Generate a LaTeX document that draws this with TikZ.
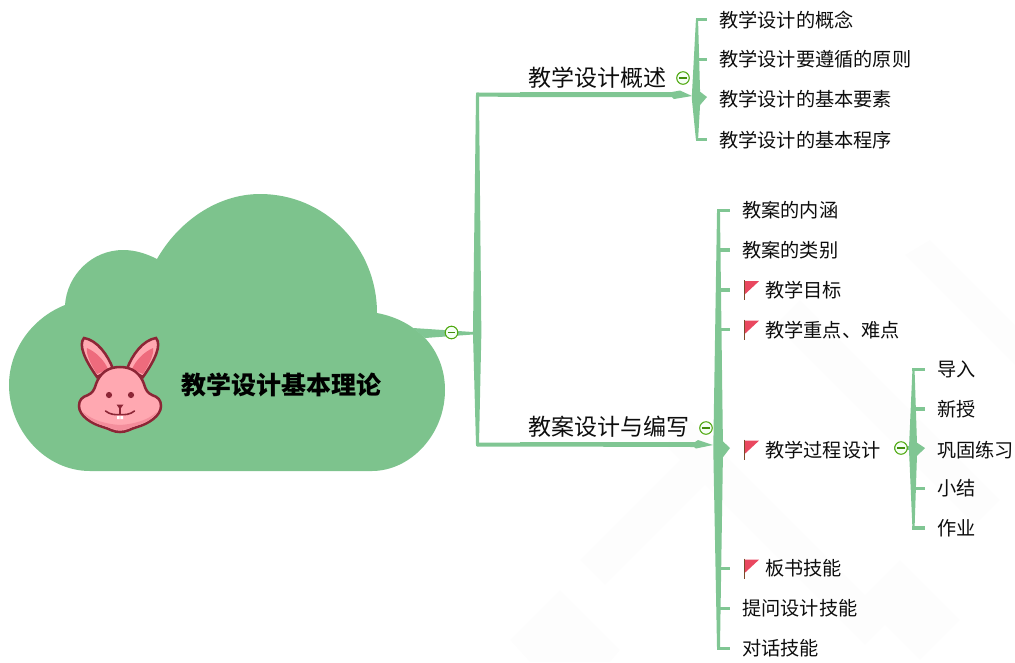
\documentclass[tikz,border=0pt]{standalone}
\usepackage{fontspec}
\setmainfont{Noto Sans CJK SC}
\usetikzlibrary{positioning}
\definecolor{cloudgreen}{HTML}{7DC38D}
\definecolor{limbgreen}{HTML}{80C693}
\definecolor{foldgreen}{HTML}{4FA80F}
\definecolor{flagred}{HTML}{E9475F}
\definecolor{flagpole}{HTML}{7A4A2A}
\definecolor{bunnyline}{HTML}{8C2636}
\definecolor{bunnyskin}{HTML}{FFA8B1}
\definecolor{bunnyear}{HTML}{EE6B7D}
\definecolor{bunnyshade}{HTML}{F48E9C}
\definecolor{markgrey}{HTML}{FDFDFD}
\tikzset{
  limb/.style={fill=limbgreen},
  twig/.style={draw=limbgreen,line width=2.7pt},
  rootlabel/.style={anchor=center,inner sep=0pt,font=\fontsize{18.75}{20}\selectfont\bfseries,text=black},
  topic/.style={anchor=west,inner sep=0pt,yshift=-.5pt,font=\fontsize{17.25}{20}\selectfont,text=black!95},
  leaf/.style={anchor=west,inner sep=0pt,yshift=-.5pt,font=\fontsize{14.4}{18}\selectfont,text=black!95},
  fold/.style={circle,draw=foldgreen,fill=green!4!white,line width=.8pt,minimum size=9.4pt,inner sep=0pt,
    path picture={\draw[foldgreen!85!black,line width=.8pt]
      ([xshift=2pt]path picture bounding box.west)--([xshift=-2pt]path picture bounding box.east);}},
  flagmark/.pic={
    \fill[flagred](15,-9)--(29,-9)--(15,4)--cycle;
    \draw[flagpole,line width=.7pt](14,-10)--(14,10);
  }
}
\begin{document}
\begin{tikzpicture}[x=.75pt,y=-.75pt]
\useasboundingbox(0,0)rectangle(1015,662);
%faint marks behind
\fill[markgrey](930,240)--(1015,325)--(1015,365)--(905,255)--cycle;
\fill[markgrey](800,300)--(1000,500)--(975,525)--(775,325)--cycle;
\fill[markgrey](690,420)--(890,620)--(865,645)--(665,445)--cycle;
\fill[markgrey](580,560)--(680,460)--(705,485)--(605,585)--cycle;
\fill[markgrey](510,640)--(560,590)--(620,650)--(610,662)--(530,662)--cycle;
\fill[markgrey](900,560)--(960,620)--(920,660)--(860,600)--cycle;
%hubs and tips
\coordinate(hubR)at(477.5,333);
\coordinate(hubA)at(697,97);
\coordinate(hubB)at(718.5,448);
\coordinate(hubC)at(913.5,448);
\coordinate(tipA)at(707,97);
\coordinate(tipB)at(730,448);
\coordinate(tipC)at(925,448);
%cloud
\fill[cloudgreen](90,471)..controls(45,471)and(9,430)..(9,385)
  ..controls(9,350)and(32,318)..(65,305)
  ..controls(67,275)and(92,250)..(123,250)
  ..controls(136,250)and(147,254)..(157,259)
  ..controls(178,222)and(217,194)..(260,194)
  ..controls(325,194)and(377,247)..(377,313)
  ..controls(398,317)and(413,326)..(425,338)
  ..controls(438,352)and(445,370)..(445,390)
  ..controls(445,435)and(410,471)..(372,471)--cycle;
\node[rootlabel](root)at(281,385){教学设计基本理论};
%bunny
\foreach \s in {1,-1}{
\begin{scope}[shift={(120,0)},xscale=\s]
\filldraw[fill=bunnyskin,draw=bunnyline,line width=1.9pt](-23,377)
  ..controls(-35,360)and(-42,345)..(-36,338)
  ..controls(-23,340)and(-12,355)..(-7,369)--cycle;
\fill[bunnyear](-23,374)..controls(-31,362)and(-34,353)..(-33,348)
  ..controls(-24,352)and(-16,360)..(-12,369)--cycle;
\end{scope}}
\filldraw[fill=bunnyskin,draw=bunnyline,line width=1.9pt](120,367)
  ..controls(108,367)and(100,373)..(96,384)
  ..controls(94,391)and(92,393)..(88,395)
  ..controls(82,397)and(79,400)..(79,406)
  ..controls(79,416)and(92,424)..(103,427)
  ..controls(110,429)and(113,432)..(120,432)
  ..controls(127,432)and(130,429)..(137,427)
  ..controls(148,424)and(161,416)..(161,406)
  ..controls(161,400)and(158,397)..(152,395)
  ..controls(148,393)and(146,391)..(144,384)
  ..controls(140,373)and(132,367)..(120,367)--cycle;
\fill[bunnyshade](83,412)..controls(92,420)and(105,424)..(120,425)
  ..controls(135,424)and(148,420)..(157,412)
  ..controls(152,420)and(145,423)..(137,425.5)
  ..controls(130,427.5)and(127,430)..(120,430)
  ..controls(113,430)and(110,427.5)..(103,425.5)
  ..controls(95,423)and(88,420)..(83,412)--cycle;
\fill[bunnyline](109,395)circle(3.1)(131,395)circle(3.1);
\fill[bunnyline](116.5,404.5)--(123.5,404.5)--(120,409.5)--cycle;
\draw[bunnyline,line width=.9pt](120,408)--(120,414);
\draw[bunnyline,line width=1.2pt,line cap=round](105.5,411)..controls(110,414.5)and(115,415)..(120,414.5)
  ..controls(125,415)and(130,414.5)..(134.5,411);
\fill[white](117,416)rectangle(119.6,419)(120.4,416)rectangle(123,419);
%first level
\node[topic](topicA)at(528,77){教学设计概述};
\node[topic](topicB)at(528,426){教案设计与编写};
%second level
\node[leaf](a1)at(719,19){教学设计的概念};
\node[leaf](a2)at(719,59){教学设计要遵循的原则};
\node[leaf](a3)at(719,98){教学设计的基本要素};
\node[leaf](a4)at(719,139){教学设计的基本程序};
\node[leaf](b1)at(742,210){教案的内涵};
\node[leaf](b2)at(742,249.5){教案的类别};
\node[leaf](b3)at(765,289.5){教学目标};
\node[leaf](b4)at(765,329){教学重点、难点};
\node[leaf](b5)at(765,449){教学过程设计};
\node[leaf](b6)at(765,568){板书技能};
\node[leaf](b7)at(742,608){提问设计技能};
\node[leaf](b8)at(742,648){对话技能};
%third level
\node[leaf](c1)at(937,369){导入};
\node[leaf](c2)at(937,408.5){新授};
\node[leaf](c3)at(937,449){巩固练习};
\node[leaf](c4)at(937,488){小结};
\node[leaf](c5)at(937,527.5){作业};
%branch from the cloud
\fill[limb](413,328)--(473,332)--(473,334.5)--(425,338)--cycle;
\fill[limb]([xshift=-3.4pt]hubR)--([xshift=-1.1pt]hubR|-0,92.5)--([xshift=1.1pt]hubR|-0,92.5)--([xshift=2.9pt]hubR)
  --([xshift=1.1pt]hubR|-0,446)--([xshift=-1.1pt]hubR|-0,446)--cycle;
\fill[limb](477,92.5)--(520,92.5)--(520,92)--(672,92)--(680,90.5)--(692,96)--(674,99)--(672,97)--(520,97)--(477,96.5)--cycle;
\fill[limb](477,442.5)--(520,442.5)--(520,442)--(695,442)--(698,440)--(713,445)--(696,448.5)--(694,447)--(520,446.5)--(477,446.5)--cycle;
%forks
\fill[limb]([xshift=-3.9pt]hubA)--([xshift=-.8pt]hubA|-a1)--([xshift=.8pt]hubA|-a1)--([xshift=2.3pt,yshift=4pt]hubA)
  --(tipA)--([xshift=2.3pt,yshift=-6pt]hubA)--([xshift=.8pt]hubA|-a4)--([xshift=-.8pt]hubA|-a4)--([xshift=-3.9pt,yshift=-1pt]hubA)--cycle;
\fill[limb]([xshift=-3.9pt]hubB)--([xshift=-1.1pt]hubB|-b1)--([xshift=1.1pt]hubB|-b1)--([xshift=3.3pt,yshift=5pt]hubB)
  --(tipB)--([xshift=3.3pt,yshift=-7pt]hubB)--([xshift=1.1pt]hubB|-b8)--([xshift=-1.1pt]hubB|-b8)--([xshift=-3.9pt,yshift=-1pt]hubB)--cycle;
\fill[limb]([xshift=-3.4pt]hubC)--([xshift=-.8pt]hubC|-c1)--([xshift=.8pt]hubC|-c1)--([xshift=2.6pt,yshift=4pt]hubC)
  --(tipC)--([xshift=2.6pt,yshift=-6pt]hubC)--([xshift=.8pt]hubC|-c5)--([xshift=-.8pt]hubC|-c5)--([xshift=-3.4pt,yshift=-1pt]hubC)--cycle;
\draw[twig](894,448)--(hubC);
%twigs
\foreach \n in {a1,a2,a4}{\draw[twig]([xshift=-.8pt]hubA|-\n)--(tipA|-\n);}
\foreach \n in {b1,b2,b3,b4,b6,b7,b8}{\draw[twig]([xshift=-1.1pt]hubB|-\n)--(tipB|-\n);}
\foreach \n in {c1,c2,c4,c5}{\draw[twig]([xshift=-.8pt]hubC|-\n)--(tipC|-\n);}
%flags
\foreach \n in {b3,b4,b5,b6}{\pic at(tipB|-\n){flagmark};}
%fold buttons
\node[fold](foldR)at(451.5,332.5){};
\node[fold](foldA)at(683,78){};
\node[fold](foldB)at(706,428){};
\node[fold](foldC)at(901,448){};
\end{tikzpicture}
\end{document}
